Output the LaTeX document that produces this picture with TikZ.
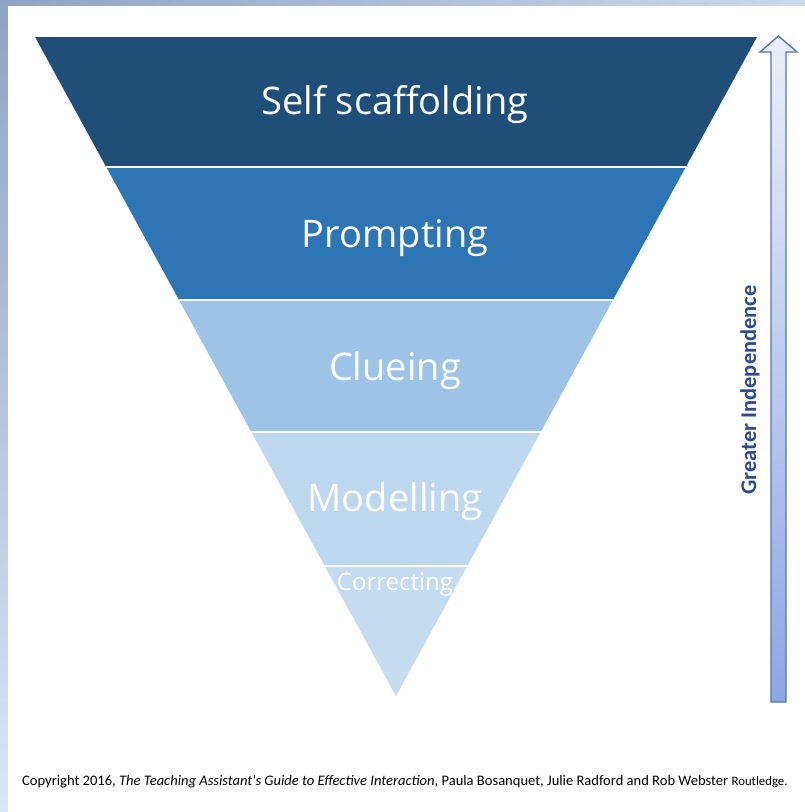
\documentclass[tikz,border=0pt]{standalone}
\usepackage{fontspec}
\setmainfont{Open Sans}
\newfontfamily\capfont{Carlito}
\usetikzlibrary{calc,shadings}
\definecolor{bandA}{HTML}{1F4E79}
\definecolor{bandB}{HTML}{2E75B6}
\definecolor{bandC}{HTML}{9DC3E6}
\definecolor{bandD}{HTML}{BDD7EE}
\definecolor{bandE}{HTML}{C5DCF0}
\definecolor{frameA}{HTML}{8FA3C6}
\definecolor{frameB}{HTML}{CAD9EC}
\definecolor{frameC}{HTML}{D8E6F5}
\definecolor{arrowTop}{HTML}{EAF0FA}
\definecolor{arrowBot}{HTML}{8EA6E2}
\definecolor{arrowLine}{HTML}{5874B0}
\definecolor{arrowText}{HTML}{2F4A8E}
\tikzset{
  sep/.style={draw=white, line width=1.6pt},
  lbl/.style={text=white, inner sep=0pt, anchor=center},
  big/.style={font=\fontsize{38}{42}\selectfont},
}
\begin{document}
\begin{tikzpicture}[x=1pt,y=-1pt]
\useasboundingbox (0,0) rectangle (805,812);
% frame
\shade[upper left=frameA, upper right=frameB, lower left=frameC, lower right=white] (0,0) rectangle (805,812);
\fill[white] (8,6) rectangle (805,812);
% bands
\coordinate (TL) at (35,37);
\coordinate (TR) at (757,37);
\coordinate (AP) at (396,696);
\foreach \n/\y in {a/167,b/300,c/432,d/566}{
  \coordinate (L\n) at ($(TL)!{(\y-37)/659}!(AP)$);
  \coordinate (R\n) at ($(TR)!{(\y-37)/659}!(AP)$);
}
\fill[bandA] (TL) -- (TR) -- (Ra) -- (La) -- cycle;
\fill[bandB] (La) -- (Ra) -- (Rb) -- (Lb) -- cycle;
\fill[bandC] (Lb) -- (Rb) -- (Rc) -- (Lc) -- cycle;
\fill[bandD] (Lc) -- (Rc) -- (Rd) -- (Ld) -- cycle;
\fill[bandE] (Ld) -- (Rd) -- (AP) -- cycle;
\draw[sep] (La) -- (Ra);
\draw[sep] (Lb) -- (Rb);
\draw[sep] (Lc) -- (Rc);
\draw[sep] (Ld) -- (Rd);
% labels
\node[lbl, big] (t1) at (395,105) {Self scaffolding};
\node[lbl, big] (t2) at (395,238) {Prompting};
\node[lbl, big] (t3) at (395,371) {Clueing};
\node[lbl, big] (t4) at (395,502) {Modelling};
\node[lbl, font=\fontsize{24}{28}\selectfont] (t5) at (395,585) {Correcting};
% arrow
\shade[top color=arrowTop, bottom color=arrowBot]
  (771,702) -- (771,52) -- (760,52) -- (778.5,36) -- (797,52) -- (786,52) -- (786,702) -- cycle;
\draw[arrowLine, line width=1.4pt, line join=miter]
  (771,702) -- (771,52) -- (760,52) -- (778.5,36) -- (797,52) -- (786,52) -- (786,702) -- cycle;
\node[rotate=90, font=\capfont\bfseries\fontsize{22.5}{26}\selectfont, text=arrowText, inner sep=0pt] (gi) at (750,390) {Greater Independence};
% copyright
\node[anchor=west, inner sep=0pt, font=\capfont\fontsize{14.55}{16}\selectfont] (cp) at (22,782)
  {Copyright 2016, \textit{The Teaching Assistant's Guide to Effective Interaction}, Paula Bosanquet, Julie Radford and Rob Webster {\fontsize{12.8}{14}\selectfont Routledge.}};
\end{tikzpicture}
\end{document}
